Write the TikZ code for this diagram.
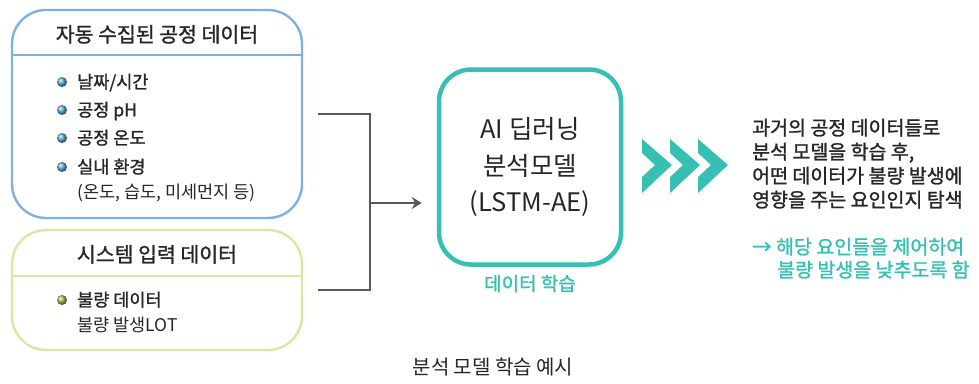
\documentclass[tikz,border=0pt]{standalone}
\usepackage{fontspec}
\setmainfont{Noto Sans CJK KR}
\newfontfamily\krmed[FakeBold=1.3]{Noto Sans CJK KR}
\usetikzlibrary{positioning,arrows.meta}
\definecolor{boxblue}{HTML}{7FB0DE}
\definecolor{boxgreen}{HTML}{D6E8A4}
\definecolor{aiteal}{HTML}{38BFB3}
\definecolor{linegray}{HTML}{5A5A5A}
\definecolor{txtdark}{HTML}{262626}
\definecolor{dotblue}{HTML}{5FAEDD}
\definecolor{dotgreen}{HTML}{9DBE5A}

\begin{document}
\begin{tikzpicture}[x=1pt,y=-1pt,>={Stealth[length=10pt,width=12pt]},
  databox/.style={draw,line width=2.4pt,rounded corners=34pt,minimum width=290pt,inner sep=0pt},
  boxtitle/.style={anchor=base,font=\krmed\fontsize{20.5}{24}\selectfont,text=txtdark},
  item/.style={anchor=base west,inner sep=0pt,font=\krmed\fontsize{17.5}{20}\selectfont,text=txtdark},
  subitem/.style={anchor=base west,inner sep=0pt,font=\fontsize{17.5}{20}\selectfont,text=txtdark},
  link/.style={draw=linegray,line width=2.2pt}]
\useasboundingbox (0,0) rectangle (979,383);

% input boxes
\node[databox,draw=boxblue,minimum height=208pt] (collect) at (157,114) {};
\draw[boxblue,line width=2.4pt] ([yshift=-46pt]collect.north west) -- ([yshift=-46pt]collect.north east);
\node[boxtitle] (collecttitle) at (157,42) {자동 수집된 공정 데이터};
\foreach \y/\t [count=\i] in {88.3/{날짜/시간},116.3/공정 pH,144.3/공정 온도,173.3/실내 환경}{
  \shade[ball color=dotblue] (62,\y-6.3) circle (5pt);
  \node[item] (c\i) at (77,\y) {\t};
}
\node[subitem] (c5) at (77,198.3) {(온도, 습도, 미세먼지 등)};

\node[databox,draw=boxgreen,minimum height=120pt] (system) at (157,290) {};
\draw[boxgreen,line width=2.4pt] ([yshift=-47pt]system.north west) -- ([yshift=-47pt]system.north east);
\node[boxtitle] (systemtitle) at (157,262) {시스템 입력 데이터};
\shade[ball color=dotgreen] (62,300) circle (5pt);
\node[item] (s1) at (77,306.3) {불량 데이터};
\node[subitem] (s2) at (77,331.3) {불량 발생LOT};

% model
\node[draw=aiteal,line width=4.5pt,rounded corners=32pt,minimum width=182pt,minimum height=195pt,
  align=center,font=\fontsize{25.5}{36.5}\selectfont,text=txtdark] (model) at (530,167)
  {AI 딥러닝\\분석모델\\(LSTM-AE)};
\node[below=8pt of model,inner sep=0pt,font=\krmed\fontsize{19}{22}\selectfont,text=aiteal] (learn) {데이터 학습};

% connectors
\coordinate (inA) at (318,114);
\coordinate (inB) at (318,290);
\coordinate (hub) at (370,203);
\draw[link] (inA) -- (inA -| hub) -- (inB -| hub) -- (inB);
\draw[link,->,shorten >=15pt] (hub) -- (hub -| model.west);

% chevrons
\foreach \i in {0,1,2}
  \fill[aiteal,shift={(642+28*\i,166)}] (0,-27) -- (30,-1) -- (0,27) -- (0,11) -- (13,-1) -- (0,-13) -- cycle;

% result
\node[anchor=base west,inner sep=0pt,align=left,font=\krmed\fontsize{19.5}{24}\selectfont,text=txtdark] (why) at (752,207)
  {과거의 공정 데이터들로\\분석 모델을 학습 후,\\어떤 데이터가 불량 발생에\\영향을 주는 요인인지 탐색};
\node[anchor=base west,inner sep=0pt,align=left,font=\krmed\fontsize{19.5}{23}\selectfont,text=aiteal] (goal) at (752,277)
  {→ 해당 요인들을 제어하여\\\hspace*{25pt}불량 발생을 낮추도록 함};

\node[anchor=base,font=\fontsize{20}{24}\selectfont,text=txtdark] (caption) at (493,374) {분석 모델 학습 예시};
\end{tikzpicture}
\end{document}
